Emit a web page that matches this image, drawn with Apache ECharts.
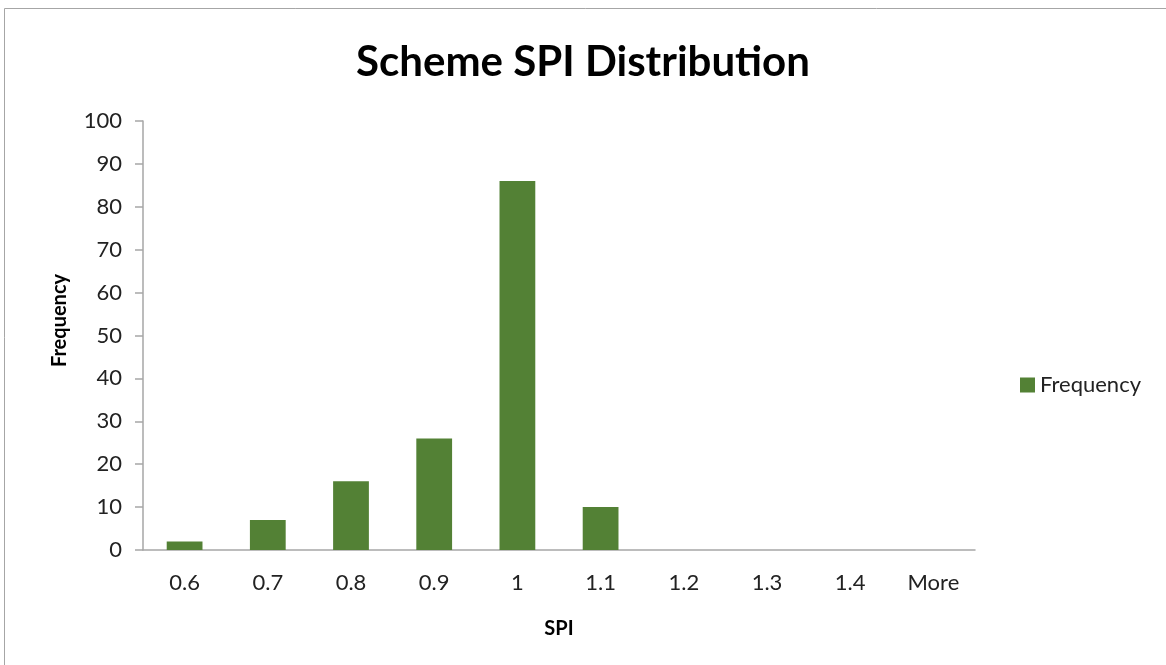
<!DOCTYPE html>
<html>
<head>
<meta charset="utf-8">
<script src="https://cdn.jsdelivr.net/npm/echarts@6/dist/echarts.min.js"></script>
<style>
html,body{margin:0;padding:0;background:#fff;}
#chart{width:1166px;height:665px;}
</style>
</head>
<body>
<div id="chart"></div>
<script>
// SPI bins and counts
var categories = ['0.6', '0.7', '0.8', '0.9', '1', '1.1', '1.2', '1.3', '1.4', 'More'];
var frequency = [2, 7, 16, 26, 86, 10, 0, 0, 0, 0];

var font = 'Lato, "Open Sans", sans-serif';
var chart = echarts.init(document.getElementById('chart'));

chart.setOption({
    backgroundColor: '#fff',
    animation: false,
    graphic: [{
        type: 'rect',
        shape: {x: 4.5, y: 8.5, width: 1200, height: 700},
        style: {fill: 'none', stroke: '#a6a6a6', lineWidth: 1},
        silent: true
    }],
    title: {
        text: 'Scheme SPI Distribution',
        left: 'center',
        top: 36,
        textStyle: {fontFamily: font, fontSize: 42, fontWeight: 'bold', color: '#000'}
    },
    legend: {
        data: ['Frequency'],
        left: 1015,
        top: 369,
        orient: 'vertical',
        itemWidth: 15,
        itemHeight: 15,
        itemGap: 6,
        icon: 'rect',
        textStyle: {fontFamily: font, fontSize: 22, color: '#222'}
    },
    grid: {left: 143, right: 191, top: 121, bottom: 115},
    xAxis: {
        type: 'category',
        data: categories,
        name: 'SPI',
        nameLocation: 'middle',
        nameGap: 69,
        nameTextStyle: {fontFamily: font, fontSize: 20, fontWeight: 'bold', color: '#000'},
        axisLine: {lineStyle: {color: '#a6a6a6', width: 1.5}},
        axisTick: {length: 8, lineStyle: {color: '#a6a6a6', width: 1.5}},
        axisLabel: {fontFamily: font, fontSize: 22, color: '#222', margin: 22},
        splitLine: {show: false}
    },
    yAxis: {
        type: 'value',
        min: 0,
        max: 100,
        interval: 10,
        name: 'Frequency',
        nameLocation: 'middle',
        nameGap: 73,
        nameTextStyle: {fontFamily: font, fontSize: 20, fontWeight: 'bold', color: '#000', padding: [0, 0, 0, 30]},
        axisLine: {show: true, lineStyle: {color: '#a6a6a6', width: 1.5}},
        axisTick: {show: true, length: 8, lineStyle: {color: '#a6a6a6', width: 1.5}},
        axisLabel: {fontFamily: font, fontSize: 22, color: '#222', margin: 21},
        splitLine: {show: false}
    },
    series: [{
        name: 'Frequency',
        type: 'bar',
        data: frequency,
        barWidth: '43%',
        itemStyle: {color: '#538135'}
    }]
});
</script>
</body>
</html>
